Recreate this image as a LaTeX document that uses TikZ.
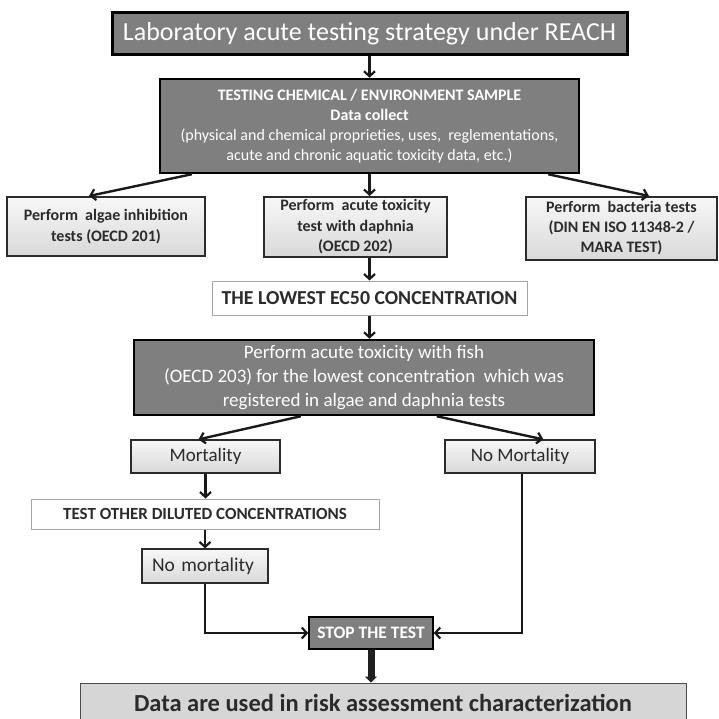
\documentclass[tikz,border=0pt]{standalone}
\usepackage{fontspec}
\setmainfont{Carlito}
\usetikzlibrary{arrows.meta}
\definecolor{darkbox}{HTML}{7F7F7F}
\definecolor{txtdark}{HTML}{2B2B2B}
\begin{document}
\begin{tikzpicture}[x=1pt,y=-1pt,
  darkstyle/.style={draw=black,fill=darkbox,text=white,align=center,inner sep=0pt},
  lightstyle/.style={draw=txtdark,line width=2pt,top color=gray!6,bottom color=gray!30,text=txtdark,align=center,inner sep=0pt},
  whitestyle/.style={draw=gray!70,line width=1pt,fill=white,text=txtdark,align=center,inner sep=0pt},
  arr/.style={line width=2.4pt,draw=black!90,-{Straight Barb[length=5pt,width=11pt,line width=2.2pt]}}
]
\useasboundingbox (0,0) rectangle (719,719);
\clip (0,0) rectangle (719,719);

\node[darkstyle,line width=3pt,minimum width=515pt,minimum height=42pt,font=\fontsize{26}{30}\selectfont] (title) at (369.5,34)
  {Laboratory acute testing strategy under REACH};

\node[darkstyle,line width=2.5pt,minimum width=419pt,minimum height=94pt,font=\fontsize{16}{20.2}\selectfont] (testing) at (369.5,126)
  {\textbf{TESTING CHEMICAL / ENVIRONMENT SAMPLE}\\
   \textbf{Data collect}\\
   (physical and chemical proprieties, uses,~ reglementations,\\
   acute and chronic aquatic toxicity data, etc.)};

\node[lightstyle,minimum width=198pt,minimum height=59pt,font=\fontsize{16}{21}\selectfont\bfseries] (algae) at (106,226.5)
  {Perform~ algae inhibition\\tests (OECD 201)};
\node[lightstyle,minimum width=183pt,minimum height=60pt,font=\fontsize{16}{20.5}\selectfont\bfseries] (daphnia) at (355.5,227)
  {Perform~ acute toxicity\\test with daphnia\\(OECD 202)};
\node[lightstyle,minimum width=191pt,minimum height=63pt,font=\fontsize{16}{20}\selectfont\bfseries] (bacteria) at (621.5,228.5)
  {Perform~ bacteria tests\\(DIN EN ISO 11348-2 /\\MARA TEST)};

\node[whitestyle,minimum width=315pt,minimum height=34pt,font=\fontsize{19.8}{22}\selectfont\bfseries] (lowest) at (369.5,298)
  {THE LOWEST EC50 CONCENTRATION};

\node[darkstyle,line width=2.5pt,minimum width=460pt,minimum height=75pt,font=\fontsize{19}{24}\selectfont] (fish) at (364,377.5)
  {Perform acute toxicity with fish\\
   (OECD 203) for the lowest concentration~ which was\\
   registered in algae and daphnia tests};

\node[lightstyle,line width=1.2pt,minimum width=149pt,minimum height=33pt,font=\fontsize{19}{22}\selectfont] (mort) at (205.5,456.5)
  {Mortality};
\node[lightstyle,line width=1.2pt,minimum width=150pt,minimum height=33pt,font=\fontsize{19}{22}\selectfont] (nomort) at (520,456.5)
  {No Mortality};

\node[whitestyle,minimum width=348pt,minimum height=30pt,font=\fontsize{17}{20}\selectfont\bfseries] (other) at (205,514)
  {TEST OTHER DILUTED CONCENTRATIONS};

\node[lightstyle,line width=1.2pt,minimum width=126pt,minimum height=34pt,align=left,text width=106pt,font=\fontsize{19.5}{22}\selectfont] (nomort2) at (205,566)
  {No mortality};

\node[darkstyle,line width=1.5pt,minimum width=124pt,minimum height=32pt,font=\fontsize{17.5}{20}\selectfont\bfseries] (stop) at (371,633)
  {STOP THE TEST};

\node[draw=gray!60!black,line width=1pt,fill=gray!32,text=txtdark,minimum width=606pt,minimum height=40pt,inner sep=0pt,font=\fontsize{24.5}{28}\selectfont\bfseries] (data) at (383,703)
  {Data are used in risk assessment characterization};

% connectors
\draw[arr] (title.south) -- (testing.north);
\draw[arr] ([xshift=33pt]testing.south west) -- ([xshift=83pt]algae.north west);
\draw[arr] (testing.south) -- ([xshift=14pt]daphnia.north);
\draw[arr] ([xshift=-32pt]testing.south east) -- ([xshift=124pt]bacteria.north west);
\draw[arr] ([xshift=14pt]daphnia.south) -- (lowest.north);
\draw[arr] (lowest.south) -- (fish.north -| lowest.south);
\draw[arr] ([xshift=168pt]fish.south west) -- ([xshift=-7pt]mort.north);
\draw[arr] ([xshift=304pt]fish.south west) -- ([xshift=99pt]nomort.north west);
\draw[arr] (mort.south) -- (other.north -| mort.south);
\draw[arr] (other.south) -- (nomort2.north);
\draw[arr] (nomort2.south) |- (stop.west);
\draw[arr] ([xshift=2pt]nomort.south) |- (stop.east);
\draw[line width=7pt,draw=gray!25!black,-{Triangle[length=6pt,width=12pt]}] (stop.south) -- (data.north -| stop.south);
\end{tikzpicture}
\end{document}
